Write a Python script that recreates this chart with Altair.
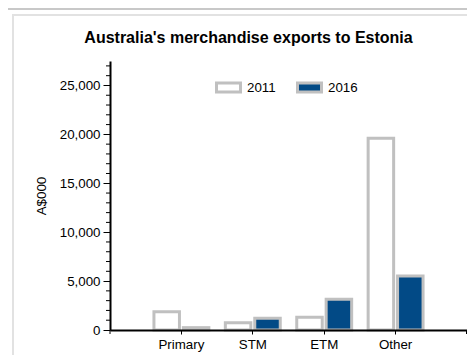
import altair as alt
import pandas as pd

title_text = "Australia's merchandise exports to Estonia"
categories = ["Primary", "STM", "ETM", "Other"]
years = ["2011", "2016"]
values_2011 = [1870, 750, 1300, 19590]
values_2016 = [240, 1200, 3140, 5520]
y_major_ticks = [0, 5000, 10000, 15000, 20000, 25000]
y_minor_ticks = [1000, 2000, 3000, 4000, 6000, 7000, 8000, 9000,
                 11000, 12000, 13000, 14000, 16000, 17000, 18000, 19000,
                 21000, 22000, 23000, 24000, 26000, 27000]

rows = []
for c, a, b in zip(categories, values_2011, values_2016):
    rows.append({"category": c, "year": "2011", "value": a})
    rows.append({"category": c, "year": "2016", "value": b})
df = pd.DataFrame(rows)

W, H = 357, 269
FONT = "Liberation Sans"
GRAY = "#c0c0c0"
BLUE = "#024a86"
FS = 13.33
YDOM = [0, 27500]

one = alt.Data(values=[{"t": title_text}])

yaxis = alt.Axis(values=y_major_ticks, format=",d", title="A$000", grid=False,
                 domainColor="black", domainWidth=2, tickColor="black", tickSize=7,
                 labelFontSize=FS, labelFont=FONT, labelColor="black", labelPadding=3,
                 titleFont=FONT, titleFontSize=FS, titleFontWeight="normal",
                 titleColor="black", titleX=-69, titleY=134.5, titleBaseline="middle",
                 titleAngle=270, zindex=1)
yscale = alt.Scale(domain=YDOM, nice=False)

top_dark = alt.Chart(one).mark_rule(color="#c8c8c8", strokeWidth=2).encode(
    x=alt.value(-110), x2=alt.value(W), y=alt.value(-52))
top_light = alt.Chart(one).mark_rule(color="#e2e2e2", strokeWidth=2).encode(
    x=alt.value(-98), x2=alt.value(W), y=alt.value(-46))
left_light = alt.Chart(one).mark_rule(color="#e2e2e2", strokeWidth=2).encode(
    x=alt.value(-97), y=alt.value(-46), y2=alt.value(302))

bars = alt.Chart(df).mark_bar(stroke=GRAY, strokeWidth=3, width=25.5).encode(
    x=alt.X("category:N", sort=categories,
            scale=alt.Scale(paddingInner=0.176, paddingOuter=0.588),
            axis=alt.Axis(title=None, labelAngle=0, domainColor="black", domainWidth=2,
                          tickColor="black", tickSize=4, labelFontSize=FS, labelFont=FONT,
                          labelColor="black", labelPadding=3, zindex=1)),
    xOffset=alt.XOffset("year:N", sort=years, scale=alt.Scale(paddingInner=0, paddingOuter=0)),
    y=alt.Y("value:Q", scale=yscale, axis=yaxis),
    fill=alt.Fill("year:N", scale=alt.Scale(domain=years, range=["white", BLUE]),
                  legend=alt.Legend(title=None, orient="none", legendX=105, legendY=13,
                                    direction="horizontal",
                                    symbolType="M-1,-0.375L1,-0.375L1,0.375L-1,0.375Z",
                                    symbolSize=576, symbolStrokeColor=GRAY, symbolStrokeWidth=3,
                                    labelFontSize=FS, labelFont=FONT, labelColor="black",
                                    labelOffset=5, columnPadding=15, padding=0)),
)

minor = alt.Chart(pd.DataFrame({"value": y_minor_ticks})).mark_rule(color="black", strokeWidth=1).encode(
    y=alt.Y("value:Q", scale=yscale, axis=yaxis),
    x=alt.value(-4), x2=alt.value(0))

end_ticks = alt.Chart(alt.Data(values=[{"p": 0}])).mark_rule(color="black", strokeWidth=1).encode(
    x=alt.value(0), y=alt.value(H), y2=alt.value(H + 4))
end_ticks2 = alt.Chart(alt.Data(values=[{"p": 1}])).mark_rule(color="black", strokeWidth=1).encode(
    x=alt.value(W - 0.5), y=alt.value(H), y2=alt.value(H + 4))

title = alt.Chart(one).mark_text(font=FONT, fontSize=16, fontWeight="bold", color="black",
                                 align="center", baseline="alphabetic").encode(
    x=alt.value(138.5), y=alt.value(-18.5), text="t:N")

chart = alt.layer(top_dark, top_light, left_light, bars, minor, end_ticks, end_ticks2, title).properties(
    width=W, height=H,
    padding={"left": 102, "top": 53, "right": 0, "bottom": 25},
    autosize="none",
).configure_view(stroke=None)

chart.save("out.html", embed_options={"renderer": "svg", "actions": False})
